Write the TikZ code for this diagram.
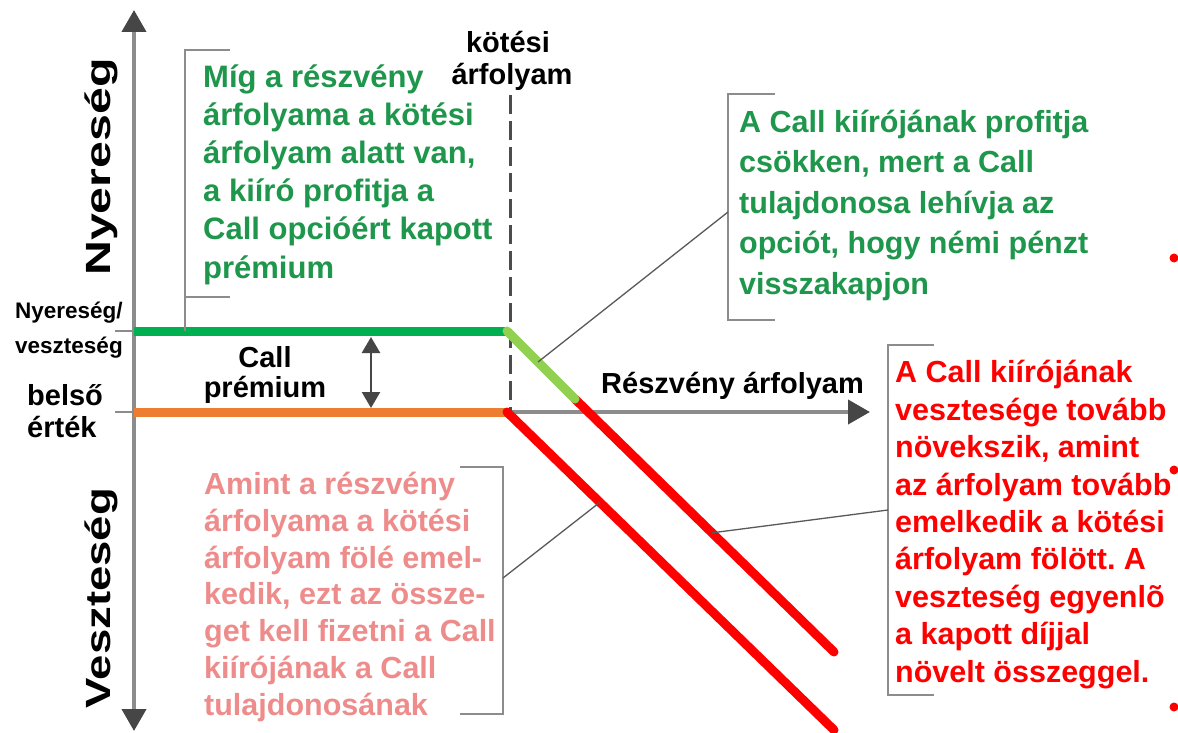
\documentclass[tikz,border=0pt]{standalone}
\usepackage{fontspec}
\setmainfont{Liberation Sans}
\usetikzlibrary{arrows.meta}
\frenchspacing
\definecolor{txtgreen}{RGB}{30,150,75}
\definecolor{txtpink}{RGB}{238,140,140}
\definecolor{linegreen}{RGB}{0,176,80}
\definecolor{lightgreen}{RGB}{146,208,80}
\definecolor{lineorange}{RGB}{237,125,49}
\definecolor{axisgray}{RGB}{140,140,140}
\definecolor{tipgray}{RGB}{70,70,70}
\tikzset{
  axisline/.style={draw=axisgray, line width=4pt, -{Triangle[length=22pt,width=24pt,color=tipgray]}},
  payoff/.style={line width=9pt},
  bracketline/.style={draw=axisgray, line width=2pt},
  leader/.style={draw=black!65, line width=1.3pt},
  tickline/.style={draw=axisgray, line width=2.5pt},
  body/.style={inner sep=0pt, anchor=base west, align=left, font=\bfseries\fontsize{30.5}{37.4}\selectfont},
  lbl/.style={inner sep=0pt, font=\bfseries\fontsize{29}{32}\selectfont},
}
\begin{document}
\begin{tikzpicture}[x=1pt,y=-1pt]
\useasboundingbox (0,0) rectangle (1178,733);
\fill[white] (0,0) rectangle (1178,733);
% axes
\coordinate (O) at (134,412);
\coordinate (ytop) at (134,10);
\coordinate (ybot) at (134,731);
\coordinate (xend) at (870,412);
\draw[axisline] (O) -- (ytop);
\draw[axisline] (O) -- (ybot);
\draw[axisline] (O) -- (xend);
% ticks
\coordinate (G0) at (134,331);
\draw[tickline] (115,331) -- (G0);
\draw[tickline] (115,412) -- (O);
% strike dashed line
\coordinate (Ktop) at (510,95);
\coordinate (Kbot) at (510,412);
\draw[draw=black!70, line width=3pt, dash pattern=on 19pt off 7pt] (Ktop) -- (Kbot);
% payoff lines
\coordinate (K) at (507,331);
\coordinate (S) at (507,412);
\coordinate (T) at (575,399);
\coordinate (R1) at (834,652);
\coordinate (R2) at (834,730);
\draw[payoff, draw=linegreen] (G0) -- (K);
\draw[payoff, draw=lineorange] (O) -- (S);
\draw[payoff, draw=red, line cap=round] (T) -- (R1) coordinate[pos=0.529] (r1mid);
\draw[payoff, draw=red, line cap=round] (S) -- (R2) coordinate[pos=0.284] (r2mid);
\draw[payoff, draw=lightgreen, line cap=round] (K) -- (T) coordinate[pos=0.456] (lgmid);
% premium arrow
\coordinate (pa) at (371,337);
\coordinate (pb) at (371,408);
\draw[draw=tipgray, line width=2.5pt, {Triangle[length=16pt,width=18pt]}-{Triangle[length=16pt,width=18pt]}] (pa) -- (pb);
% axis labels
\node[inner sep=0pt, anchor=base, rotate=90, font=\bfseries\fontsize{35}{35}\selectfont] (nyer) at (110,167) {\scalebox{1.38}[1]{Nyereség}};
\node[inner sep=0pt, anchor=base, rotate=90, font=\bfseries\fontsize{35}{35}\selectfont] (veszt) at (110,598) {\scalebox{1.3}[1]{Veszteség}};
\node[inner sep=0pt, anchor=base west, font=\bfseries\fontsize{22.5}{22.5}\selectfont] (nv1) at (15,318) {Nyereség/};
\node[inner sep=0pt, anchor=base west, font=\bfseries\fontsize{22.5}{22.5}\selectfont] (nv2) at (15,353) {veszteség};
\node[lbl, anchor=base west] (be1) at (27,405) {belső};
\node[lbl, anchor=base west] (be2) at (27,437) {érték};
\node[lbl, anchor=base] (cp1) at (265,367) {Call};
\node[lbl, anchor=base] (cp2) at (265,397) {prémium};
\node[lbl, anchor=base] (kt1) at (508,53) {kötési};
\node[lbl, anchor=base] (kt2) at (512,85) {árfolyam};
\node[lbl, anchor=base west] (rsz) at (601,393) {Részvény árfolyam};
% text blocks (anchored at the baseline of their last line)
\node[body, text=txtgreen, font=\bfseries\fontsize{31}{38.2}\selectfont] (g1) at (203,278) {Míg a részvény\\árfolyama a kötési\\árfolyam alatt van,\\a kiíró profitja a\\Call opcióért kapott\\prémium};
\node[body, text=txtgreen, font=\bfseries\fontsize{30.5}{40.5}\selectfont] (g2) at (739,294) {A Call kiírójának profitja\\csökken, mert a Call\\tulajdonosa lehívja az\\opciót, hogy némi pénzt\\visszakapjon};
\node[body, text=red] (rd) at (895,682) {A Call kiírójának\\vesztesége tovább\\növekszik, amint\\az árfolyam tovább\\emelkedik a kötési\\árfolyam fölött. A\\veszteség egyenlõ\\a kapott díjjal\\növelt összeggel.};
\node[body, text=txtpink, font=\bfseries\fontsize{30.5}{36.7}\selectfont] (pk) at (204,715) {Amint a részvény\\árfolyama a kötési\\árfolyam fölé emel-\\kedik, ezt az össze-\\get kell fizetni a Call\\kiírójának a Call\\tulajdonosának};
% brackets
\draw[bracketline] (230,50) -- (185,50) -- (185,331);
\draw[bracketline] (185,297) -- (230,297);
\draw[bracketline] (775,94) -- (728,94) -- (728,320) -- (775,320);
\draw[bracketline] (934,345) -- (888,345) -- (888,695) -- (934,695);
\draw[bracketline] (460,467) -- (503,467) -- (503,714) -- (460,714);
% leaders
\coordinate (bg2) at (728,212);
\coordinate (brd) at (888,510);
\coordinate (bpk) at (503,578);
\draw[leader] (bg2) -- (lgmid);
\draw[leader] (brd) -- (r1mid);
\draw[leader] (bpk) -- (r2mid);
% red bullets
\fill[red] (1174,258) circle (4.5);
\fill[red] (1174,470) circle (4.5);
\fill[red] (1174,707) circle (4.5);
\end{tikzpicture}
\end{document}
